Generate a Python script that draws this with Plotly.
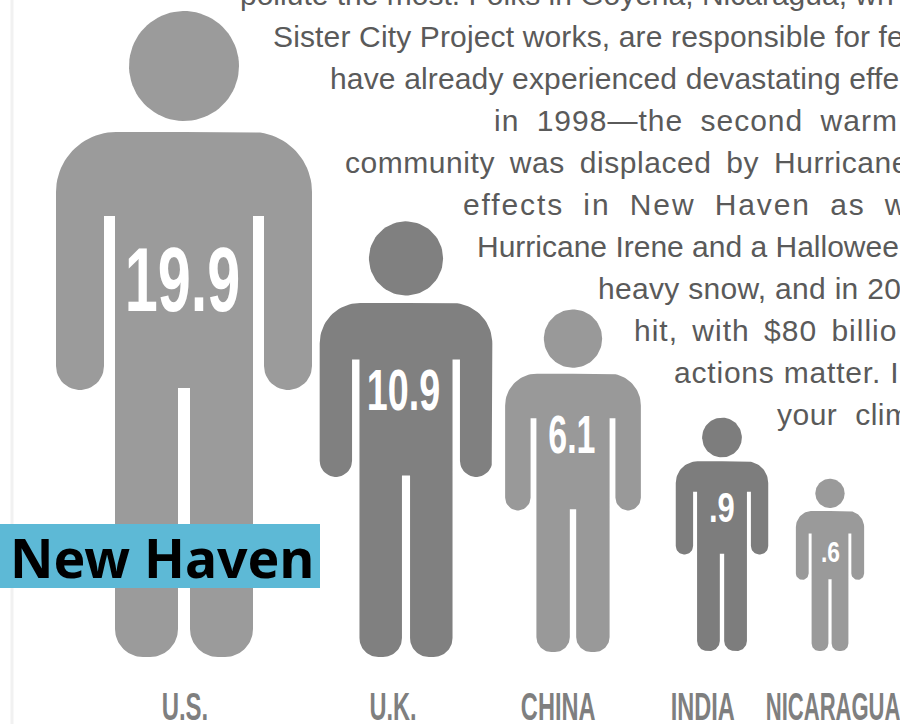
import json
import numpy as np
import plotly.graph_objects as go

# --- data ---
countries = ["U.S.", "U.K.", "CHINA", "INDIA", "NICARAGUA"]
value_labels = ["19.9", "10.9", "6.1", ".9", ".6"]
figure_heights = [645, 435, 342, 233, 172]
figure_centers = [184, 406, 573, 722, 830]
figure_bottoms = [657, 657, 652, 651, 651]
figure_colors = ["#9b9b9b", "#808080", "#999999", "#7d7d7d", "#9a9a9a"]
value_x = [182, 403, 572, 722, 830]
value_y = [280, 389, 434, 507, 551]
value_sizes = [90, 58, 53, 43, 30]
value_squeeze = [0.66, 0.65, 0.64, 0.72, 0.76]
label_x = [185, 393, 558, 702, 833]
label_squeeze = [0.63, 0.62, 0.62, 0.62, 0.58]

text_lines = [
    "pollute the most. Folks in Goyena, Nicaragua, wh",
    "Sister City Project works, are responsible for fe",
    "have already experienced devastating effe",
    "in 1998—the second warm",
    "community was displaced by Hurricane",
    "effects in New Haven as w",
    "Hurricane Irene and a Hallowee",
    "heavy snow, and in 20",
    "hit, with $80 billio",
    "actions matter. I",
    "your clim",
]
text_x = [240, 273, 330, 494, 345, 463, 477, 598, 634, 674, 777]
text_base = [6, 48, 90, 132, 174, 216, 258, 300, 342, 384, 426]
letter_spacing = [0, 0.15, 0.15, 1, 0.55, 1.9, 0, 0.3, 1, 0.8, 0.5]
word_spacing = [0, 0, 0, 8, 6, 9, 0, 0, 5, 0, 9]


def arc(cx, cy, r, a0, a1, n=24):
    t = np.radians(np.linspace(a0, a1, n))
    return cx + r * np.cos(t), cy + r * np.sin(t)


def person_outline():
    """Right half of the pictogram, unit = 1 figure height, y measured down from the top."""
    u = 645.0
    xs, ys = [np.array([0.0])], [np.array([120.0])]
    for cx, cy, r, a0, a1 in [
        (68, 180, 60, -90, 0),      # shoulder
        (104, 354, 24, 0, 180),     # arm end
    ]:
        x, y = arc(cx, cy, r, a0, a1)
        xs.append(x); ys.append(y)
    xs.append(np.array([80.0, 69.0])); ys.append(np.array([204.0, 204.0]))
    for cx, cy, r, a0, a1 in [
        (41, 617, 28, 0, 90),       # outer foot
        (34, 617, 28, 90, 180),     # inner foot
    ]:
        x, y = arc(cx, cy, r, a0, a1)
        xs.append(x); ys.append(y)
    xs.append(np.array([6.0, 0.0])); ys.append(np.array([376.0, 376.0]))
    x = np.concatenate(xs) / u
    y = np.concatenate(ys) / u
    return np.concatenate([x, -x[::-1]]), np.concatenate([y, y[::-1]])


body_x, body_y = person_outline()
head_x, head_y = arc(0, 54 / 645, 55 / 645, 0, 360, 80)

fig = go.Figure()
for name, h, cx, bottom, color in zip(countries, figure_heights, figure_centers, figure_bottoms, figure_colors):
    top = bottom - h
    for gx, gy in [(body_x, body_y), (head_x, head_y)]:
        fig.add_trace(go.Scatter(
            x=cx + gx * h, y=top + gy * h, mode="lines", fill="toself",
            fillcolor=color, line=dict(width=0, color=color),
            hoverinfo="skip", showlegend=False, name=name,
        ))

annotations = []
for lab, x, y, s in zip(value_labels, value_x, value_y, value_sizes):
    annotations.append(dict(x=x, y=y, text=lab, showarrow=False, xanchor="center", yanchor="middle",
                            font=dict(family="Liberation Sans", size=s, color="white", weight=700)))
for lab, x in zip(countries, label_x):
    annotations.append(dict(x=x, y=707, text=lab, showarrow=False, xanchor="center", yanchor="middle",
                            font=dict(family="Liberation Sans", size=38, color="#7f7f7f", weight=700)))
for line, x, base in zip(text_lines, text_x, text_base):
    annotations.append(dict(x=x, y=base + 5, text=line, showarrow=False, xanchor="left", yanchor="bottom",
                            align="left", borderpad=0, borderwidth=0,
                            font=dict(family="Liberation Sans", size=30, color="#5a5a5a")))
annotations.append(dict(x=8, y=557, text="New Haven", showarrow=False, xanchor="left", yanchor="middle",
                        font=dict(family="Noto Sans", size=53.5, color="black", weight=700)))

fig.update_layout(
    width=900, height=724, autosize=False,
    margin=dict(l=0, r=0, t=0, b=0),
    paper_bgcolor="white", plot_bgcolor="white",
    xaxis=dict(range=[0, 900], visible=False, fixedrange=True),
    yaxis=dict(range=[724, 0], visible=False, fixedrange=True),
    showlegend=False,
    annotations=annotations,
    shapes=[
        dict(type="line", x0=12, x1=12, y0=0, y1=724, line=dict(color="#f1f1f1", width=3), layer="below"),
        dict(type="rect", x0=0, x1=320, y0=524, y1=588, fillcolor="#5db9d6", line=dict(width=0), layer="above"),
    ],
)

squeeze = dict(zip(value_labels, value_squeeze))
squeeze.update(dict(zip(countries, label_squeeze)))
spacing = {t: [ls, ws] for t, ls, ws in zip(text_lines, letter_spacing, word_spacing)}
post_script = """
document.body.style.margin = '0';
document.body.style.overflow = 'hidden';
var squeeze = %s, spacing = %s;
document.querySelectorAll('text.annotation-text').forEach(function (t) {
  var s = t.textContent;
  if (s in squeeze) {
    t.style.transformBox = 'fill-box';
    t.style.transformOrigin = 'center';
    t.style.transform = 'scaleX(' + squeeze[s] + ')';
  }
  if (s in spacing) {
    t.style.letterSpacing = spacing[s][0] + 'px';
    t.style.wordSpacing = spacing[s][1] + 'px';
  }
});
""" % (json.dumps(squeeze), json.dumps(spacing, ensure_ascii=False))

fig.write_html("out.html", config=dict(displayModeBar=False), post_script=post_script)
